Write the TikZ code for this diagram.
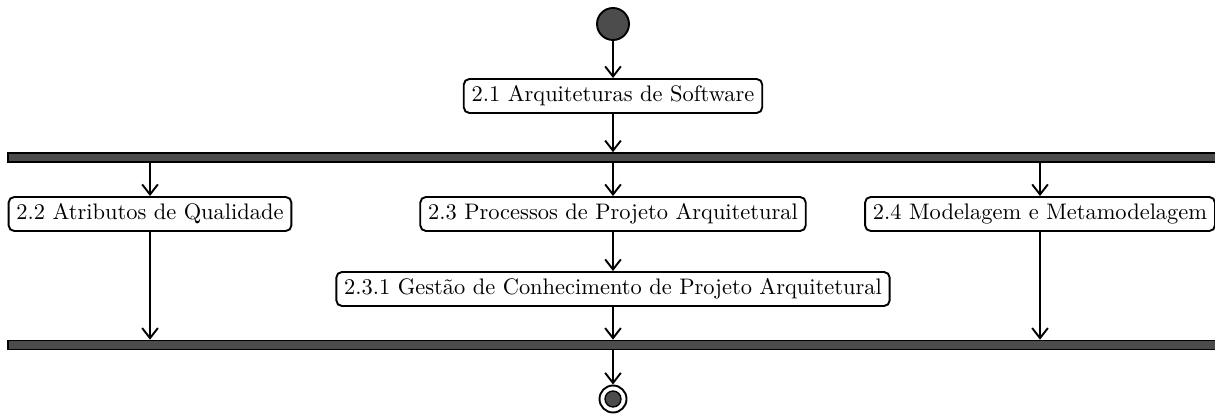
\documentclass[tikz,border=0pt]{standalone}
\usetikzlibrary{arrows.meta}
\begin{document}
\begin{tikzpicture}[x=0.4455pt,y=-0.4455pt,
  activity/.style={draw=black,line width=0.85pt,rounded corners=2.5pt,fill=white,
    minimum height=34*0.4455pt,inner xsep=3.5pt,inner ysep=0pt,font=\normalsize},
  bar/.style={draw=black,line width=0.7pt,fill=black!70,minimum height=9*0.4455pt,
    minimum width=1212*0.4455pt,inner sep=0pt,anchor=west},
  flow/.style={line width=0.85pt,-{Straight Barb[length=4.5pt,width=7pt]}},
  initial/.style={circle,draw=black,line width=0.85pt,fill=black!70,minimum size=32*0.4455pt,inner sep=0pt},
  final/.style={circle,draw=black,line width=0.85pt,fill=white,minimum size=27*0.4455pt,inner sep=0pt},
  finalcore/.style={circle,fill=black!70,draw=black,line width=0.6pt,minimum size=16*0.4455pt,inner sep=0pt}]
\useasboundingbox (0,0) rectangle (1215,416);

% initial node and first activity
\node[initial] (start) at (613,24) {};
\node[activity] (a21) at (613,96) {2.1 Arquiteturas de Software};

% fork bar
\node[bar] (fork) at (7,157.5) {};

% parallel activities
\node[activity] (a22) at (150,214) {2.2 Atributos de Qualidade};
\node[activity] (a23) at (613,214) {2.3 Processos de Projeto Arquitetural};
\node[activity] (a24) at (1040,214) {2.4 Modelagem e Metamodelagem};
\node[activity] (a231) at (613,289) {2.3.1 Gestão de Conhecimento de Projeto Arquitetural};

% join bar
\node[bar] (join) at (7,345) {};

% final node
\node[final] (end) at (613,399) {};
\node[finalcore] (endcore) at (end.center) {};

% control flows
\draw[flow] (start) -- (a21);
\draw[flow] (a21) -- (a21.south |- fork.north);
\draw[flow] (fork.south -| a22.north) -- (a22.north);
\draw[flow] (fork.south -| a23.north) -- (a23.north);
\draw[flow] (fork.south -| a24.north) -- (a24.north);
\draw[flow] (a23) -- (a231);
\draw[flow] (a22.south) -- (a22.south |- join.north);
\draw[flow] (a231.south) -- (a231.south |- join.north);
\draw[flow] (a24.south) -- (a24.south |- join.north);
\draw[flow] (join.south -| end.north) -- (end.north);
\end{tikzpicture}
\end{document}
